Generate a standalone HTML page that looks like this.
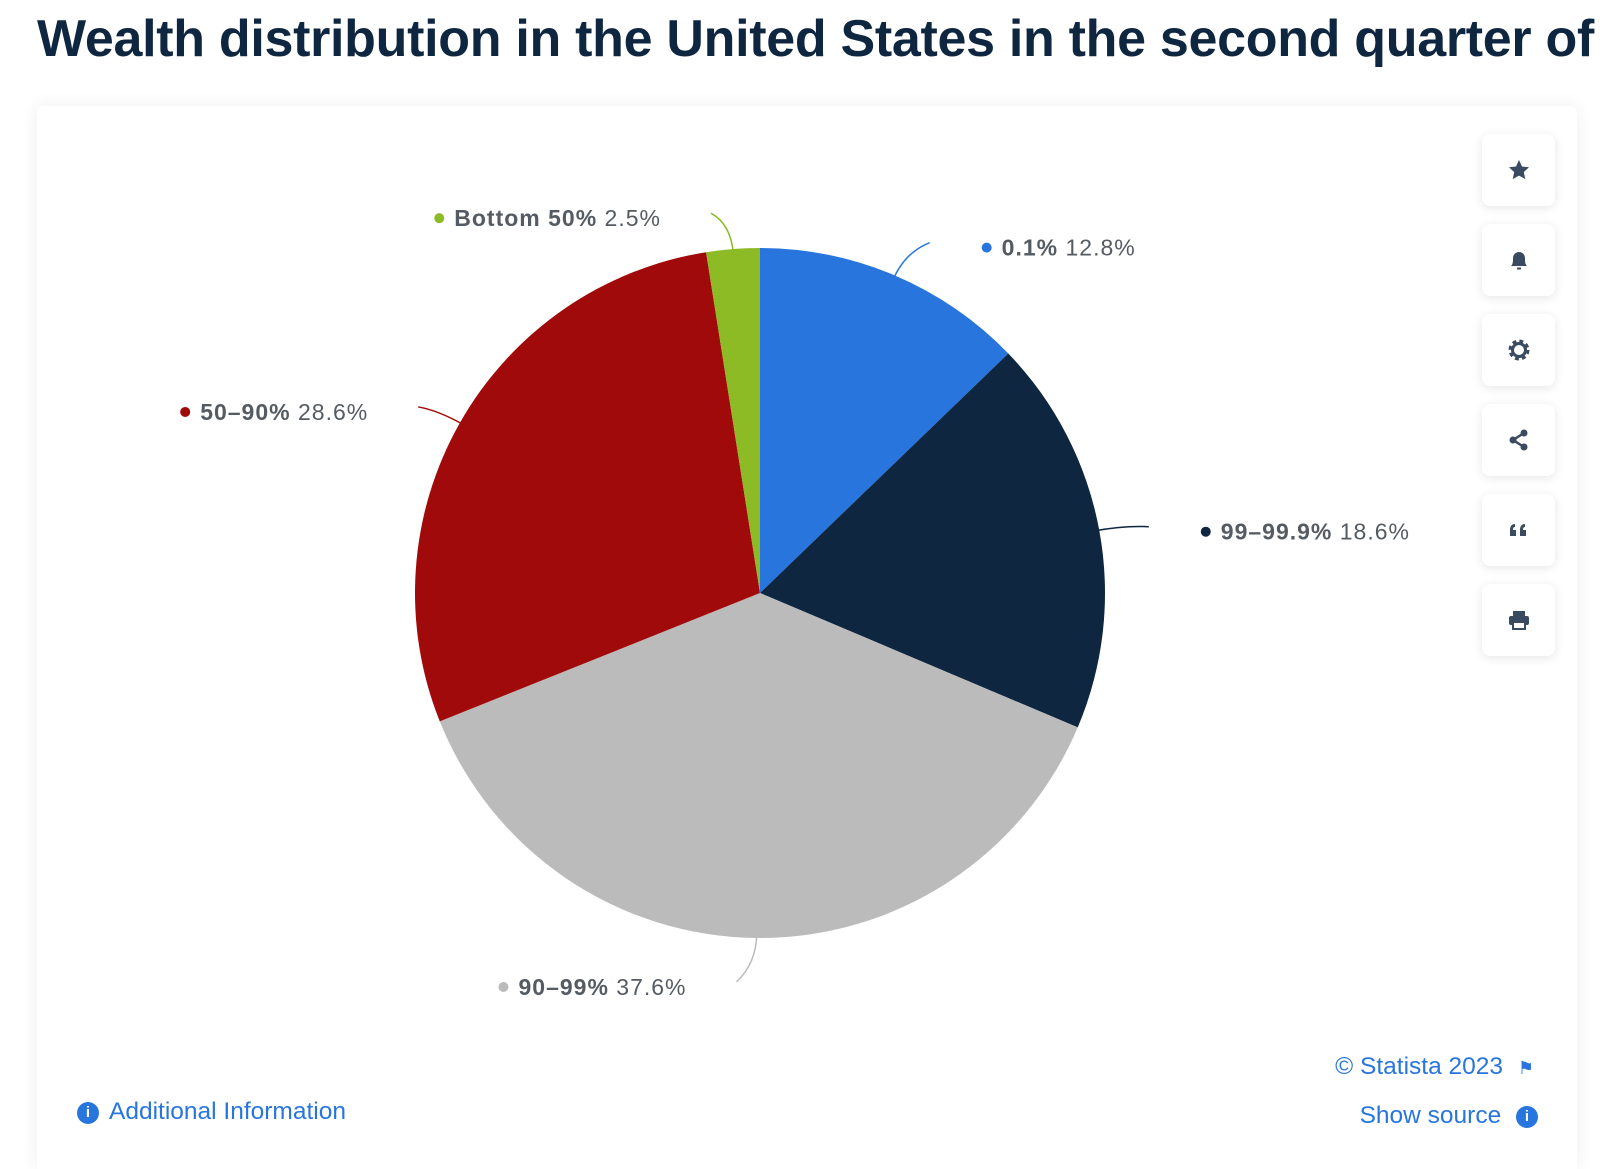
<!DOCTYPE html>
<html><head><meta charset="utf-8">
<style>
html,body{margin:0;width:1600px;height:1169px;overflow:hidden}
body{background:#fff;font-family:"Liberation Sans",sans-serif;position:relative}
#title-wrap{position:absolute;left:0;top:0;width:1600px;height:90px;overflow:hidden}
#title{position:absolute;left:37px;top:9px;font-size:52px;font-weight:bold;color:#0f2640;white-space:nowrap;margin:0;letter-spacing:-0.3px}
#card{position:absolute;left:37px;top:106px;width:1540px;height:1063px;background:#fff;border-radius:6px 6px 0 0;box-shadow:0 0 18px rgba(0,0,0,0.07)}
.btn{position:absolute;left:1482px;width:73px;height:72px;background:#fff;border-radius:8px;box-shadow:0 2px 10px rgba(0,0,0,0.10);display:flex;align-items:center;justify-content:center}
.foot{position:absolute;color:#2876dd;font-size:24.5px;white-space:nowrap}
.ic{display:inline-block;width:22px;height:22px;border-radius:50%;background:#2876dd;color:#fff;font-size:15px;font-weight:bold;text-align:center;line-height:22px;vertical-align:middle}
</style></head><body>
<div id="title-wrap"><h1 id="title">Wealth distribution in the United States in the second quarter of 2023</h1></div>
<div id="card"></div>
<svg id="chart" width="1600" height="1169" style="position:absolute;left:0;top:0"></svg>
<div class="btn" style="top:134px"><svg width="24" height="24" viewBox="0 0 24 24"><path d="M12 2l3 6.5 7 .8-5.2 4.8 1.5 7L12 17.6 5.7 21.1l1.5-7L2 9.3l7-.8z" fill="#3a4a60"/></svg></div>
<div class="btn" style="top:224px"><svg width="24" height="24" viewBox="0 0 24 24"><path d="M4 18c2-2 2-4 2-8a6 6 0 0112 0c0 4 0 6 2 8z" fill="#3a4a60"/><rect x="10" y="19.5" width="4" height="2" fill="#3a4a60"/></svg></div>
<div class="btn" style="top:314px"><svg width="24" height="24" viewBox="0 0 24 24"><circle cx="12" cy="12" r="8" fill="none" stroke="#3a4a60" stroke-width="5" stroke-dasharray="3.5 2.8"/><circle cx="12" cy="12" r="6.5" fill="none" stroke="#3a4a60" stroke-width="3"/></svg></div>
<div class="btn" style="top:404px"><svg width="24" height="24" viewBox="0 0 24 24"><circle cx="17" cy="5" r="3.5" fill="#3a4a60"/><circle cx="6" cy="12" r="3.5" fill="#3a4a60"/><circle cx="17" cy="19" r="3.5" fill="#3a4a60"/><path d="M17 5L6 12l11 7" stroke="#3a4a60" stroke-width="2.5" fill="none"/></svg></div>
<div class="btn" style="top:494px"><svg width="24" height="24" viewBox="0 0 24 24"><path d="M3 18v-6c0-4 2-6 5-6v3c-1.5 0-2 1-2 3h3v6zM13 18v-6c0-4 2-6 5-6v3c-1.5 0-2 1-2 3h3v6z" fill="#3a4a60"/></svg></div>
<div class="btn" style="top:584px"><svg width="24" height="24" viewBox="0 0 24 24"><rect x="6" y="3" width="12" height="5" fill="#3a4a60"/><rect x="2" y="8" width="20" height="9" rx="2" fill="#3a4a60"/><rect x="6" y="14" width="12" height="7" fill="#fff" stroke="#3a4a60" stroke-width="2"/></svg></div>
<div class="foot" style="right:66px;top:1053px">© Statista 2023 <span style="font-size:18px;margin-left:8px">⚑</span></div>
<div class="foot" style="right:62px;top:1102px">Show source <span class="ic" style="margin-left:8px">i</span></div>
<div class="foot" style="left:77px;top:1098px"><span class="ic" style="margin-right:10px">i</span>Additional Information</div>
<script>
const categories = ["0.1%", "99–99.9%", "90–99%", "50–90%", "Bottom 50%"];
const values = [12.8, 18.6, 37.6, 28.6, 2.5];
const colors = ["#2876dd", "#0f2640", "#bbbbbb", "#a10a0a", "#8cbb25"];
const cx = 760, cy = 593, R = 345;
const NS = "http://www.w3.org/2000/svg";
const svg = document.getElementById("chart");
const total = values.reduce((a, b) => a + b, 0);
function pt(a, r) { return [cx + r * Math.sin(a), cy - r * Math.cos(a)]; }
let acc = 0;
values.forEach((v, i) => {
  const a0 = acc / total * 2 * Math.PI; acc += v;
  const a1 = acc / total * 2 * Math.PI;
  const p0 = pt(a0, R), p1 = pt(a1, R);
  const large = (a1 - a0) > Math.PI ? 1 : 0;
  const path = document.createElementNS(NS, "path");
  path.setAttribute("d", `M${cx},${cy}L${p0[0]},${p0[1]}A${R},${R} 0 ${large} 1 ${p1[0]},${p1[1]}Z`);
  path.setAttribute("fill", colors[i]);
  
  
  svg.appendChild(path);
  const am = (a0 + a1) / 2;
  const e = pt(am, R - 5), m = pt(am, R + 25), right = Math.sin(am) >= 0;
  const end = [m[0] + (right ? 25 : -20), pt(am, R + 40)[1] + 4];
  const c = document.createElementNS(NS, "path");
  c.setAttribute("d", `M${e[0]},${e[1]}Q${m[0]},${m[1]} ${end[0]},${end[1]}`);
  c.setAttribute("stroke", colors[i]); c.setAttribute("stroke-width", "1.5"); c.setAttribute("fill", "none");
  
  
  svg.appendChild(c);
  const g = document.createElementNS(NS, "g");
  
  
  const ly = end[1] + 5;
  const t = document.createElementNS(NS, "text");
  t.setAttribute("y", ly + 8);
  t.setAttribute("font-size", "23"); t.setAttribute("fill", "#555b62"); t.setAttribute("letter-spacing", "1");
  t.setAttribute("font-family", "Liberation Sans, sans-serif");
  const b = document.createElementNS(NS, "tspan"); b.setAttribute("font-weight", "bold"); b.textContent = categories[i] + " ";
  const n = document.createElementNS(NS, "tspan"); n.textContent = v + "%";
  t.appendChild(b); t.appendChild(n);
  const dot = document.createElementNS(NS, "circle"); dot.setAttribute("r", "5"); dot.setAttribute("fill", colors[i]); dot.setAttribute("cy", ly);
  g.appendChild(dot); g.appendChild(t); svg.appendChild(g);
  if (right) { dot.setAttribute("cx", end[0] + 57); t.setAttribute("x", end[0] + 72); }
  else { t.setAttribute("text-anchor", "end"); t.setAttribute("x", end[0] - 50);
    const w = t.getComputedTextLength ? t.getComputedTextLength() : 190;
    dot.setAttribute("cx", end[0] - 50 - w - 15); }
});
</script>
</body></html>
